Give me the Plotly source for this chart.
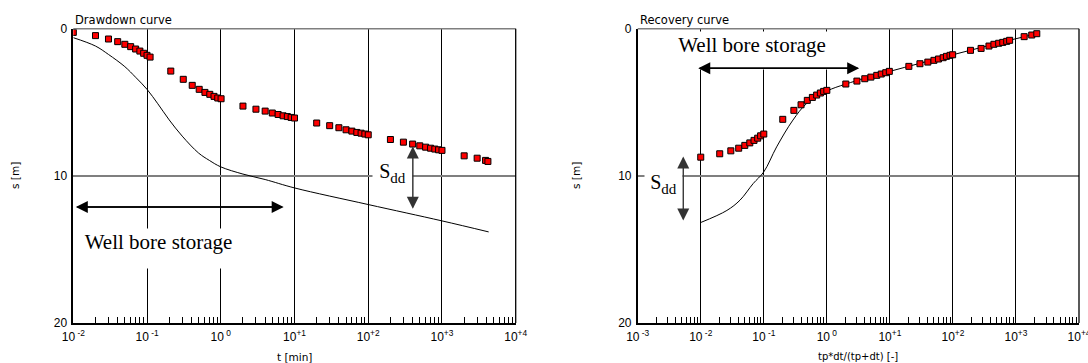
import plotly.graph_objects as go

# ---- Drawdown test: measured drawdown s [m] versus time t [min]
dd_t = [0.01, 0.02, 0.03, 0.04, 0.05, 0.06, 0.07, 0.08, 0.09, 0.10, 0.11,
        0.21, 0.31, 0.41, 0.51, 0.61, 0.71, 0.81, 0.91, 1.01,
        2, 3, 4, 5, 6, 7, 8, 9, 10,
        20, 30, 40, 50, 60, 70, 80, 90, 100,
        200, 300, 400, 500, 600, 700, 800, 900, 1000,
        2000, 3000, 3900, 4200]
dd_s = [0.25, 0.47, 0.70, 0.88, 1.06, 1.22, 1.38, 1.52, 1.67, 1.81, 1.93,
        2.88, 3.44, 3.85, 4.12, 4.33, 4.46, 4.60, 4.71, 4.76,
        5.26, 5.47, 5.60, 5.73, 5.83, 5.92, 5.97, 6.03, 6.07,
        6.41, 6.59, 6.73, 6.87, 6.96, 7.05, 7.10, 7.16, 7.21,
        7.53, 7.71, 7.84, 7.96, 8.05, 8.12, 8.18, 8.23, 8.27,
        8.64, 8.80, 8.95, 9.02]

# type curve fitted to the drawdown
dd_curve_t = [0.01, 0.02, 0.03, 0.05, 0.07, 0.1, 0.14, 0.2, 0.3, 0.5, 0.7,
              1, 2, 4, 10, 100, 1000, 4300]
dd_curve_s = [0.61, 1.18, 1.75, 2.58, 3.30, 4.12, 5.10, 6.20, 7.30, 8.45, 8.95,
              9.39, 9.88, 10.25, 10.82, 11.95, 13.06, 13.81]

# ---- Recovery test: residual drawdown versus tp*dt/(tp+dt)
rc_x = [0.01, 0.02, 0.03, 0.04, 0.05, 0.06, 0.07, 0.08, 0.089, 0.1,
        0.2, 0.3, 0.39, 0.49, 0.59, 0.69, 0.79, 0.89, 1.0,
        2.0, 3.0, 4.0, 5.0, 6.2, 7.3, 8.6, 9.8,
        20, 30, 40, 50, 59, 70, 79, 90, 99,
        190, 280, 373, 447, 532, 617, 713, 794,
        1350, 1780, 2140]
rc_s = [8.73, 8.50, 8.30, 8.12, 7.93, 7.76, 7.59, 7.44, 7.28, 7.16,
        6.16, 5.55, 5.17, 4.87, 4.67, 4.51, 4.37, 4.26, 4.19,
        3.76, 3.56, 3.40, 3.29, 3.17, 3.08, 2.99, 2.90,
        2.56, 2.38, 2.27, 2.15, 2.06, 1.97, 1.88, 1.81, 1.77,
        1.47, 1.34, 1.18, 1.06, 0.99, 0.93, 0.86, 0.79,
        0.54, 0.43, 0.34]

rc_curve_x = [0.01, 0.026, 0.042, 0.068, 0.1, 0.16, 0.29, 0.48, 1.0, 2.0,
              10, 100, 1000, 2140]
rc_curve_s = [13.17, 12.35, 11.65, 10.52, 9.73, 8.03, 6.21, 5.08, 4.24, 3.76,
              2.90, 1.77, 0.68, 0.34]

# axis tick labels
dd_ticks = [1e-2, 1e-1, 1e0, 1e1, 1e2, 1e3, 1e4]
dd_ticktext = ["10<sup> -2</sup>", "10<sup> -1</sup>", "10<sup> 0</sup>", "10<sup>+1</sup>",
               "10<sup>+2</sup>", "10<sup>+3</sup>", "10<sup>+4</sup>"]
rc_ticks = [1e-3, 1e-2, 1e-1, 1e0, 1e1, 1e2, 1e3, 1e4]
rc_ticktext = ["10<sup> -3</sup>", "10<sup> -2</sup>", "10<sup> -1</sup>", "10<sup> 0</sup>",
               "10<sup>+1</sup>", "10<sup>+2</sup>", "10<sup>+3</sup>", "10<sup>+4</sup>"]
s_ticks = [0, 10, 20]

W, H = 1088, 363
SANS = "Liberation Sans, Arial, sans-serif"
WIDE = "DejaVu Sans, Verdana, sans-serif"
SERIF = "Liberation Serif, Times New Roman, serif"


def minor_vals(e0, e1):
    return [m * 10.0 ** e for e in range(e0, e1) for m in range(2, 10)]


marker = dict(symbol="square", size=6, color="#ff0000",
              line=dict(color="black", width=1))

fig = go.Figure()
fig.add_trace(go.Scatter(x=dd_curve_t, y=dd_curve_s, mode="lines", line_shape="spline",
                         line=dict(color="black", width=1), xaxis="x", yaxis="y"))
fig.add_trace(go.Scatter(x=dd_t, y=dd_s, mode="markers", marker=marker,
                         xaxis="x", yaxis="y"))
fig.add_trace(go.Scatter(x=rc_curve_x, y=rc_curve_s, mode="lines", line_shape="spline",
                         line=dict(color="black", width=1), xaxis="x2", yaxis="y2"))
fig.add_trace(go.Scatter(x=rc_x, y=rc_s, mode="markers", marker=marker,
                         xaxis="x2", yaxis="y2"))

y0, y1 = 1 - 323 / H, 1 - 28.7 / H
left_dom = [73.3 / W, 515.7 / W]
right_dom = [637.7 / W, 1079 / W]


def xaxis(dom, rng, tv, tt, e0, e1, anchor):
    return dict(type="log", domain=dom, range=rng, anchor=anchor, automargin=False,
                tickvals=tv, ticktext=tt, ticks="", ticklabelstandoff=2,
                ticklabeloverflow="allow",
                tickfont=dict(family=SANS, size=12, color="black"),
                showgrid=True, gridcolor="black", gridwidth=1.3,
                showline=True, linecolor="black", linewidth=1.5,
                zeroline=False,
                minor=dict(tickmode="array", tickvals=minor_vals(e0, e1),
                           ticks="inside", ticklen=6, tickwidth=1,
                           tickcolor="black", showgrid=False))


def yaxis(anchor):
    return dict(domain=[y0, y1], range=[20, 0], anchor=anchor, automargin=False,
                tickvals=s_ticks, ticks="", ticklabelstandoff=2,
                ticklabeloverflow="allow",
                tickfont=dict(family=SANS, size=12, color="black"),
                showgrid=True, gridcolor="#7f7f7f", gridwidth=1.5,
                showline=True, linecolor="black", linewidth=1.5,
                zeroline=False)


fig.update_layout(
    width=W, height=H, margin=dict(l=0, r=0, t=0, b=0, autoexpand=False),
    paper_bgcolor="white", plot_bgcolor="white", showlegend=False,
    xaxis=xaxis(left_dom, [-2, 4], dd_ticks, dd_ticktext, -2, 4, "y"),
    yaxis=yaxis("x"),
    xaxis2=xaxis(right_dom, [-3, 4], rc_ticks, rc_ticktext, -3, 4, "y2"),
    yaxis2=yaxis("x2"),
)

# frame: grey top edge, black right edge
for xr, yr in (("x", "y"), ("x2", "y2")):
    fig.add_shape(type="line", xref=f"{xr} domain", yref=f"{yr} domain",
                  x0=0, x1=1, y0=1, y1=1, line=dict(color="#7f7f7f", width=1.5))
    fig.add_shape(type="line", xref=f"{xr} domain", yref=f"{yr} domain",
                  x0=1, x1=1, y0=0, y1=1, line=dict(color="black", width=1.3))


def label(text, xp, yp, size, family=WIDE, **kw):
    return dict(text=text, xref="paper", yref="paper", x=xp / W, y=1 - yp / H,
                xanchor=kw.pop("xanchor", "center"), yanchor=kw.pop("yanchor", "middle"),
                showarrow=False, font=dict(family=family, size=size, color="black"), **kw)


ann = []
# panel titles
ann.append(label("Drawdown curve", 73.3, 29, 11.5, xanchor="left", yanchor="bottom"))
ann.append(label("Recovery curve", 638, 29, 11.5, xanchor="left", yanchor="bottom"))
# axis titles
ann.append(label("s [m]", 15, 176, 10.5, textangle=-90))
ann.append(label("s [m]", 576, 176, 10.5, textangle=-90))
ann.append(label("t [min]", 294, 356.5, 10.5))
ann.append(label("tp*dt/(tp+dt) [-]", 857.5, 356.5, 10))

# text boxes (white background hides the grid underneath)
ann.append(label("Well bore storage", 158, 248.5, 21, SERIF,
                 width=165, height=37, bgcolor="white", valign="top"))
ann.append(label("Well bore storage", 752, 50.5, 21, SERIF,
                 width=170, height=35, bgcolor="white", valign="top"))
sdd = "S<sub><span style='font-size:15px'>dd</span></sub>"
ann.append(label(sdd, 392.5, 173, 20, SERIF, width=37, height=28, bgcolor="white"))
ann.append(label(sdd, 663, 184, 20, SERIF, width=35, height=26, bgcolor="white"))


# double-headed arrows: two overlapping single-headed arrows
def arrow(xr, yr, xa, ya, xb, yb, width, size, color):
    out = []
    for (x0, y0_), (x1, y1_) in (((xa, ya), (xb, yb)), ((xb, yb), (xa, ya))):
        out.append(dict(text="", xref=xr, yref=yr, axref=xr, ayref=yr,
                        x=x1, y=y1_, ax=x0, ay=y0_, showarrow=True,
                        arrowhead=2, arrowside="end", arrowsize=size,
                        arrowwidth=width, arrowcolor=color))
    return out


ann += arrow("x", "y", -1.966, 12.11, 0.853, 12.11, 1.5, 1.6, "black")
ann += arrow("x2", "y2", -2.04, 2.69, 0.513, 2.69, 1.5, 1.6, "black")
ann += arrow("x", "y", 2.605, 8.0, 2.605, 12.24, 1, 2.4, "#333333")
ann += arrow("x2", "y2", -2.277, 8.69, -2.277, 13.03, 1, 2.4, "#333333")

fig.update_layout(annotations=ann)
fig.write_html("out.html")
